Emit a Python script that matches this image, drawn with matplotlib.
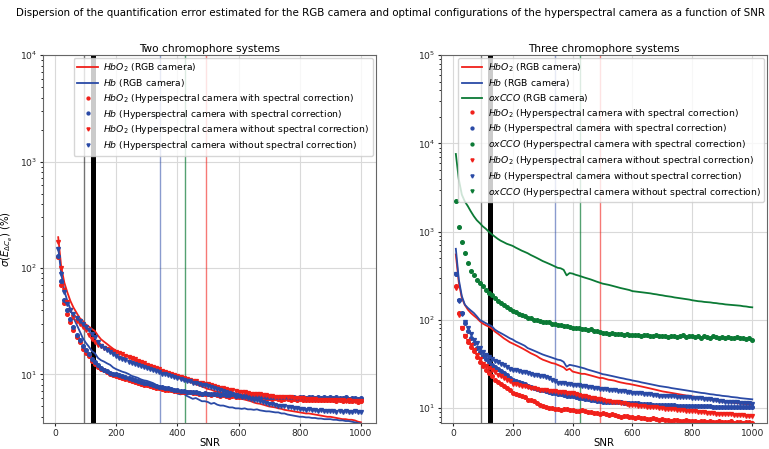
import numpy as np
from matplotlib import pyplot as plt

# SNR grid (10 .. 1000, step 10)
snr = np.arange(10, 1001, 10)

red = '#f0201a'
blue = '#2a4aa6'
green = '#0b7a35'

# optimal configurations (vertical markers)
vlines = [(93, 'k', 1.0, 0.55), (125, 'k', 3.6, 1.0),
          (342, blue, 1.0, 0.55), (424, green, 1.0, 0.7), (492, red, 1.0, 0.6)]

# ---------------- two chromophore systems ----------------
two_hbo2_rgb = [
    195, 102, 73, 59, 49, 42.5, 38, 34, 32, 29.6,
    28.2, 26.8, 25.6, 23.2, 21.4, 20.3, 19.3, 18.3, 17.4, 16.6,
    16.0, 15.5, 15.0, 14.6, 13.9, 13.6, 13.1, 12.7, 12.3, 12.0,
    11.7, 11.4, 11.1, 10.8, 10.4, 10.2, 10.0, 9.8, 9.5, 9.3,
    9.1, 8.9, 8.7, 8.5, 8.3, 8.1, 7.9, 7.7, 7.5, 7.3,
    7.2, 7.0, 6.9, 6.8, 6.6, 6.5, 6.4, 6.2, 6.1, 6.0,
    5.9, 5.8, 5.7, 5.6, 5.45, 5.35, 5.3, 5.2, 5.1, 5.0,
    4.95, 4.9, 4.8, 4.75, 4.65, 4.6, 4.55, 4.5, 4.45, 4.4,
    4.35, 4.3, 4.3, 4.25, 4.2, 4.15, 4.1, 4.05, 4.0, 4.0,
    3.95, 3.9, 3.85, 3.8, 3.8, 3.75, 3.75, 3.7, 3.6, 3.55]
two_hb_rgb = [
    155, 88, 61, 49, 41, 34, 29.6, 25.6, 22.1, 19.9,
    18.3, 16.6, 15.8, 14.3, 13.6, 13.2, 12.7, 12.3, 11.6, 11.2,
    10.9, 10.6, 10.4, 10.1, 9.7, 9.5, 9.3, 9.0, 8.8, 8.7,
    8.5, 8.3, 8.0, 7.8, 7.6, 7.4, 7.2, 6.9, 7.0, 6.6,
    6.5, 6.6, 6.3, 6.1, 5.9, 6.0, 5.8, 5.6, 5.6, 5.5,
    5.3, 5.4, 5.2, 5.1, 5.1, 5.0, 4.9, 4.9, 4.8, 4.8,
    4.75, 4.8, 4.7, 4.7, 4.65, 4.7, 4.6, 4.55, 4.5, 4.5,
    4.45, 4.4, 4.4, 4.3, 4.3, 4.2, 4.15, 4.1, 4.05, 4.0,
    4.0, 3.95, 3.95, 3.9, 3.9, 3.85, 3.85, 3.8, 3.8, 3.8,
    3.75, 3.75, 3.7, 3.7, 3.65, 3.65, 3.6, 3.55, 3.5, 3.45]
two_hbo2_corr = [
    127, 70, 47, 37, 31, 26, 22.5, 20, 17.5, 16,
    14.8, 13.5, 12.6, 11.8, 11.2, 10.9, 10.5, 10.2, 9.8, 9.7,
    9.5, 9.2, 9.0, 8.9, 8.6, 8.5, 8.3, 8.2, 8.0, 7.9,
    7.8, 7.6, 7.5, 7.5, 7.3, 7.2, 7.2, 7.1, 7.0, 7.0,
    6.9, 6.9, 6.8, 6.8, 6.7, 6.7, 6.6, 6.6, 6.5, 6.5,
    6.4, 6.5, 6.4, 6.3, 6.4, 6.3, 6.2, 6.3, 6.2, 6.2,
    6.1, 6.2, 6.1, 6.0, 6.1, 6.0, 6.0, 6.1, 5.9, 6.0,
    5.9, 6.0, 5.9, 5.8, 5.9, 5.9, 5.8, 5.9, 5.8, 5.9,
    5.8, 5.8, 5.7, 5.8, 5.7, 5.8, 5.7, 5.7, 5.8, 5.7,
    5.7, 5.6, 5.7, 5.6, 5.7, 5.6, 5.6, 5.7, 5.5, 5.6]
two_hb_corr = [
    131, 75, 50, 40, 33, 28, 23.5, 21, 18.5, 17,
    15.5, 14, 13, 12.2, 11.5, 11.0, 10.7, 10.4, 10.1, 10.0,
    9.8, 9.6, 9.4, 9.2, 9.0, 8.8, 8.7, 8.5, 8.4, 8.3,
    8.1, 8.0, 7.8, 7.7, 7.6, 7.5, 7.4, 7.3, 7.2, 7.1,
    7.0, 7.0, 6.9, 6.8, 6.9, 6.8, 6.7, 6.6, 6.7, 6.6,
    6.5, 6.6, 6.5, 6.4, 6.5, 6.4, 6.4, 6.5, 6.3, 6.4,
    6.3, 6.4, 6.3, 6.2, 6.4, 6.3, 6.2, 6.3, 6.2, 6.2,
    6.1, 6.2, 6.2, 6.1, 6.2, 6.1, 6.2, 6.1, 6.0, 6.2,
    6.1, 6.0, 6.1, 6.2, 6.0, 6.1, 6.0, 6.1, 6.0, 6.1,
    6.0, 6.1, 6.0, 6.0, 6.1, 5.9, 6.0, 6.0, 5.9, 6.0]
two_hbo2_nocorr = [
    175, 100, 62, 48, 40, 35, 32, 30, 28, 26,
    23.5, 21.5, 20, 19, 18.5, 17.9, 17.4, 17.0, 16.6, 16.2,
    15.8, 15.4, 15.0, 14.6, 14.2, 13.9, 13.5, 13.1, 12.8, 12.4,
    12.1, 11.8, 11.5, 11.2, 10.8, 10.6, 10.3, 10.1, 9.8, 9.6,
    9.4, 9.2, 9.0, 8.9, 8.7, 8.6, 8.4, 8.3, 8.2, 8.1,
    7.9, 7.8, 7.7, 7.5, 7.4, 7.3, 7.2, 7.1, 7.0, 6.9,
    6.8, 6.8, 6.7, 6.6, 6.6, 6.5, 6.5, 6.4, 6.4, 6.3,
    6.3, 6.2, 6.2, 6.2, 6.1, 6.1, 6.1, 6.0, 6.0, 6.0,
    6.0, 5.9, 5.9, 5.9, 5.9, 5.8, 5.8, 5.8, 5.8, 5.8,
    5.7, 5.7, 5.7, 5.7, 5.6, 5.7, 5.6, 5.6, 5.6, 5.6]
two_hb_nocorr = [
    150, 88, 60, 46, 40, 37, 34, 32, 30, 28,
    26, 24, 22.5, 20, 18.5, 17.8, 17.0, 16.2, 15.5, 14.9,
    14.4, 14.0, 13.6, 13.2, 12.9, 12.6, 12.3, 12.0, 11.7, 11.5,
    11.2, 10.9, 10.7, 10.5, 10.0, 10.2, 9.8, 9.6, 9.5, 9.2,
    9.0, 8.9, 8.7, 8.6, 8.4, 8.3, 8.1, 8.0, 7.9, 7.8,
    7.6, 7.5, 7.3, 7.2, 7.0, 6.9, 6.7, 6.6, 6.4, 6.3,
    6.2, 6.1, 6.0, 5.9, 5.8, 5.7, 5.6, 5.5, 5.4, 5.3,
    5.3, 5.2, 5.1, 5.1, 5.0, 4.9, 4.9, 4.8, 4.8, 4.7,
    4.7, 4.6, 4.7, 4.6, 4.6, 4.5, 4.6, 4.5, 4.5, 4.5,
    4.5, 4.4, 4.5, 4.4, 4.5, 4.4, 4.4, 4.5, 4.4, 4.45]

# ---------------- three chromophore systems ----------------
three_hbo2_rgb = [
    552, 263, 178, 148, 131, 120, 112, 105, 97, 91,
    87, 84, 80, 74, 70, 66, 62, 59, 56, 54,
    52, 50, 48, 46, 44, 42, 40.5, 39, 37, 35.5,
    34.5, 33.5, 32.5, 32, 31, 30, 29, 27, 28, 26,
    25.5, 25, 24.5, 24.5, 24, 23.5, 23, 22.5, 22, 22,
    21.5, 21, 20.8, 20.5, 20, 19.6, 19.3, 19, 18.8, 18.5,
    18.2, 17.9, 17.6, 17.3, 17.0, 16.7, 16.4, 16.1, 15.8, 15.5,
    15.3, 15.1, 14.9, 14.7, 14.5, 14.3, 14.1, 13.9, 13.8, 13.6,
    13.4, 13.2, 13.0, 12.9, 12.7, 12.5, 12.4, 12.2, 12.0, 11.9,
    11.8, 11.7, 11.6, 11.5, 11.4, 11.3, 11.2, 11.1, 11.0, 10.9]
three_hb_rgb = [
    640, 286, 186, 149, 137, 128, 120, 110, 100, 96,
    92, 88, 85, 78, 74, 71, 68, 65, 62, 60,
    57, 55, 53, 51, 48, 46.5, 45, 43.5, 42, 40.6,
    39.5, 38.5, 37.5, 36.5, 35.5, 35, 33.5, 29.5, 31, 30.5,
    30.0, 29.4, 28.8, 28.2, 27.4, 26.8, 26.2, 25.6, 25.0, 24.3,
    24.0, 23.6, 23.2, 22.8, 22.4, 22.0, 21.7, 21.3, 21.0, 20.6,
    20.3, 20.0, 19.6, 19.3, 19.0, 18.7, 18.4, 18.1, 17.8, 17.6,
    17.4, 17.2, 16.9, 16.7, 16.5, 16.3, 16.1, 15.9, 15.7, 15.5,
    15.3, 15.1, 14.9, 14.8, 14.6, 14.4, 14.3, 14.1, 14.0, 13.8,
    13.7, 13.6, 13.4, 13.3, 13.2, 13.0, 12.9, 12.8, 12.7, 12.6]
three_oxcco_rgb = [
    7600, 3900, 2630, 2200, 1950, 1700, 1500, 1350, 1250, 1150,
    1080, 1000, 935, 880, 830, 790, 760, 730, 710, 690,
    660, 635, 610, 590, 570, 545, 525, 505, 485, 465,
    450, 435, 420, 405, 390, 385, 370, 320, 340, 335,
    325, 318, 310, 302, 295, 288, 280, 272, 265, 258,
    254, 250, 245, 240, 235, 230, 226, 222, 218, 212,
    210, 208, 206, 204, 202, 200, 197, 195, 192, 190,
    187, 185, 183, 180, 178, 176, 174, 172, 170, 167,
    165, 163, 162, 160, 159, 158, 156, 155, 153, 152,
    150, 149, 148, 147, 146, 145, 143, 142, 140, 139]
three_hbo2_corr = [
    240, 120, 82, 65, 56, 50, 44, 38, 33, 30,
    27, 25, 23, 21, 20, 19, 18, 17, 16, 15,
    14.6, 14.2, 13.8, 13.4, 12.5, 12.3, 12.0, 11.5, 11.0, 10.5,
    10.3, 10.1, 10.0, 9.9, 9.8, 9.6, 9.7, 9.8, 9.5, 9.6,
    9.4, 9.3, 9.5, 9.2, 9.0, 9.1, 8.9, 8.8, 8.6, 8.8,
    8.5, 8.4, 8.5, 8.3, 8.2, 8.0, 8.1, 8.2, 8.0, 7.9,
    7.8, 7.9, 7.7, 7.8, 7.6, 7.5, 7.7, 7.5, 7.4, 7.5,
    7.3, 7.4, 7.2, 7.3, 7.4, 7.2, 7.1, 7.3, 7.2, 7.1,
    7.2, 7.0, 7.1, 7.2, 7.0, 7.1, 6.9, 7.0, 7.1, 6.9,
    7.0, 6.9, 7.1, 6.8, 7.0, 6.9, 6.8, 7.0, 6.9, 6.8]
three_hb_corr = [
    333, 170, 120, 92, 74, 62, 55, 48, 43, 39,
    36, 33, 31, 29.5, 28, 26.5, 25, 23.5, 22, 21,
    20.3, 19.7, 19.1, 18.6, 18.0, 17.5, 17.0, 16.6, 16.2, 15.9,
    15.6, 15.3, 15.0, 14.8, 14.5, 14.3, 14.1, 13.9, 13.8, 13.6,
    13.4, 13.2, 13.0, 12.8, 12.7, 12.5, 12.3, 12.2, 12.0, 11.9,
    11.8, 11.8, 11.7, 11.7, 11.6, 11.6, 11.5, 11.5, 11.4, 11.4,
    11.3, 11.3, 11.2, 11.2, 11.1, 11.1, 11.0, 11.0, 10.9, 10.9,
    10.9, 10.8, 10.8, 10.8, 10.7, 10.7, 10.7, 10.6, 10.6, 10.6,
    10.6, 10.5, 10.5, 10.5, 10.5, 10.5, 10.4, 10.4, 10.4, 10.4,
    10.4, 10.4, 10.4, 10.3, 10.4, 10.3, 10.4, 10.3, 10.4, 10.4]
three_oxcco_corr = [
    2230, 1120, 765, 575, 445, 357, 320, 287, 263, 241,
    220, 203, 190, 175, 163, 155, 148, 140, 132, 126,
    122, 118, 114, 110, 106, 104, 101, 99, 97, 96,
    94, 95, 91, 90, 88, 87, 86, 85, 83, 81,
    80, 82, 79, 78, 77, 78, 75, 74, 73, 71,
    72, 70, 71, 69, 70, 69, 68, 70, 68, 68,
    67, 68, 66, 67, 68, 66, 65, 67, 66, 65,
    66, 64, 65, 66, 64, 65, 67, 64, 65, 65,
    64, 66, 63, 65, 64, 63, 65, 64, 63, 64,
    63, 64, 62, 63, 64, 62, 63, 61, 62, 60]
three_hbo2_nocorr = [
    230, 115, 80, 66, 58, 52, 46, 40, 36, 32,
    30, 28.5, 27, 25.5, 24, 23, 22, 21, 20.5, 19,
    18.6, 18.3, 18.0, 17.7, 17.4, 17.1, 16.8, 16.5, 16.2, 16.0,
    15.9, 15.8, 15.6, 15.5, 15.4, 15.3, 15.1, 15.0, 14.9, 14.8,
    14.5, 14.2, 13.9, 13.7, 13.4, 13.2, 13.0, 12.8, 12.6, 12.4,
    12.2, 12.1, 11.9, 11.8, 11.6, 11.5, 11.3, 11.2, 11.0, 10.9,
    10.8, 10.7, 10.6, 10.5, 10.4, 10.3, 10.3, 10.2, 10.1, 10.0,
    9.9, 9.8, 9.8, 9.7, 9.6, 9.5, 9.5, 9.4, 9.3, 9.2,
    9.2, 9.1, 9.0, 9.0, 8.9, 8.9, 8.8, 8.7, 8.7, 8.6,
    8.6, 8.5, 8.5, 8.4, 8.4, 8.3, 8.3, 8.2, 8.2, 8.1]
three_hb_nocorr = [
    330, 165, 118, 95, 80, 70, 60, 55, 48, 43,
    40, 38, 36, 34.5, 33, 31.5, 30.5, 29.5, 28, 27,
    26.8, 26.5, 26, 25.6, 25, 24.6, 24, 23.8, 23.2, 23,
    22.5, 21.8, 21, 20.5, 19.5, 19.2, 19.5, 18.8, 19, 18.5,
    18.4, 18.2, 18.0, 17.8, 17.5, 17.3, 17.1, 16.9, 16.7, 16.5,
    16.4, 16.2, 16.1, 15.9, 15.8, 15.6, 15.5, 15.3, 15.2, 15.0,
    14.9, 14.8, 14.7, 14.5, 14.4, 14.3, 14.2, 14.0, 13.9, 13.8,
    13.8, 13.7, 13.7, 13.6, 13.5, 13.5, 13.4, 13.3, 13.3, 13.2,
    13.1, 13.0, 12.9, 12.8, 12.7, 12.6, 12.4, 12.3, 12.2, 12.0,
    11.9, 11.8, 11.8, 11.7, 11.6, 11.5, 11.4, 11.3, 11.3, 11.2]
three_oxcco_nocorr = []

names = {'hbo2': r'$HbO_2$', 'hb': r'$Hb$', 'oxcco': r'$oxCCO$'}
colors = {'hbo2': red, 'hb': blue, 'oxcco': green}


def panel(ax, rgb, corr, nocorr, title, ylim):
    for x, c, lw, a in vlines:
        ax.axvline(x, color=c, lw=lw, alpha=a, zorder=1.5)
    for key, vals in rgb:
        ax.plot(snr, vals, color=colors[key], lw=1.3,
                label=names[key] + ' (RGB camera)')
    for key, vals in corr:
        ax.plot(snr[:len(vals)], vals, ls='', marker='o', ms=2.6,
                color=colors[key],
                label=names[key] + ' (Hyperspectral camera with spectral correction)')
    for key, vals in nocorr:
        ax.plot(snr[:len(vals)], vals, ls='', marker='v', ms=2.8,
                color=colors[key],
                label=names[key] + ' (Hyperspectral camera without spectral correction)')
    ax.set_yscale('log')
    ax.set_ylim(*ylim)
    ax.set_xticks([0, 200, 400, 600, 800, 1000])
    ax.grid(True, color='0.85', lw=0.8)
    ax.set_axisbelow(True)
    ax.set_title(title, fontsize=7.6, pad=2)
    ax.set_xlabel('SNR', fontsize=7.3, labelpad=0)
    ax.tick_params(labelsize=6.6, colors='0.15', pad=1.5, length=2.5)
    ax.tick_params(which='minor', length=1.5)
    for s in ax.spines.values():
        s.set_color('0.4')
    ax.legend(loc='upper right', fontsize=6.7, markerscale=0.8,
              handlelength=2.2, labelspacing=0.3, borderaxespad=0.3,
              handletextpad=0.6)


fig = plt.figure(figsize=(7.69, 4.49), dpi=100)
ax1 = fig.add_axes([0.056, 0.058, 0.433, 0.819])
ax2 = fig.add_axes([0.5735, 0.058, 0.424, 0.819])

panel(ax1,
      [('hbo2', two_hbo2_rgb), ('hb', two_hb_rgb)],
      [('hbo2', two_hbo2_corr), ('hb', two_hb_corr)],
      [('hbo2', two_hbo2_nocorr), ('hb', two_hb_nocorr)],
      'Two chromophore systems', (3.5, 1e4))
ax1.set_ylabel(r'$\sigma(E_{\Delta C_e})$ (%)', fontsize=7.3)
ax1.yaxis.set_label_coords(-0.085, 0.5)

panel(ax2,
      [('hbo2', three_hbo2_rgb), ('hb', three_hb_rgb), ('oxcco', three_oxcco_rgb)],
      [('hbo2', three_hbo2_corr), ('hb', three_hb_corr), ('oxcco', three_oxcco_corr)],
      [('hbo2', three_hbo2_nocorr), ('hb', three_hb_nocorr), ('oxcco', three_oxcco_nocorr)],
      'Three chromophore systems', (6.8, 1e5))

fig.text(0.021, 0.972, 'Dispersion of the quantification error estimated for the RGB camera '
         'and optimal configurations of the hyperspectral camera as a function of SNR',
         fontsize=7.35, va='center', ha='left')

fig.savefig('out.png', dpi=100)
